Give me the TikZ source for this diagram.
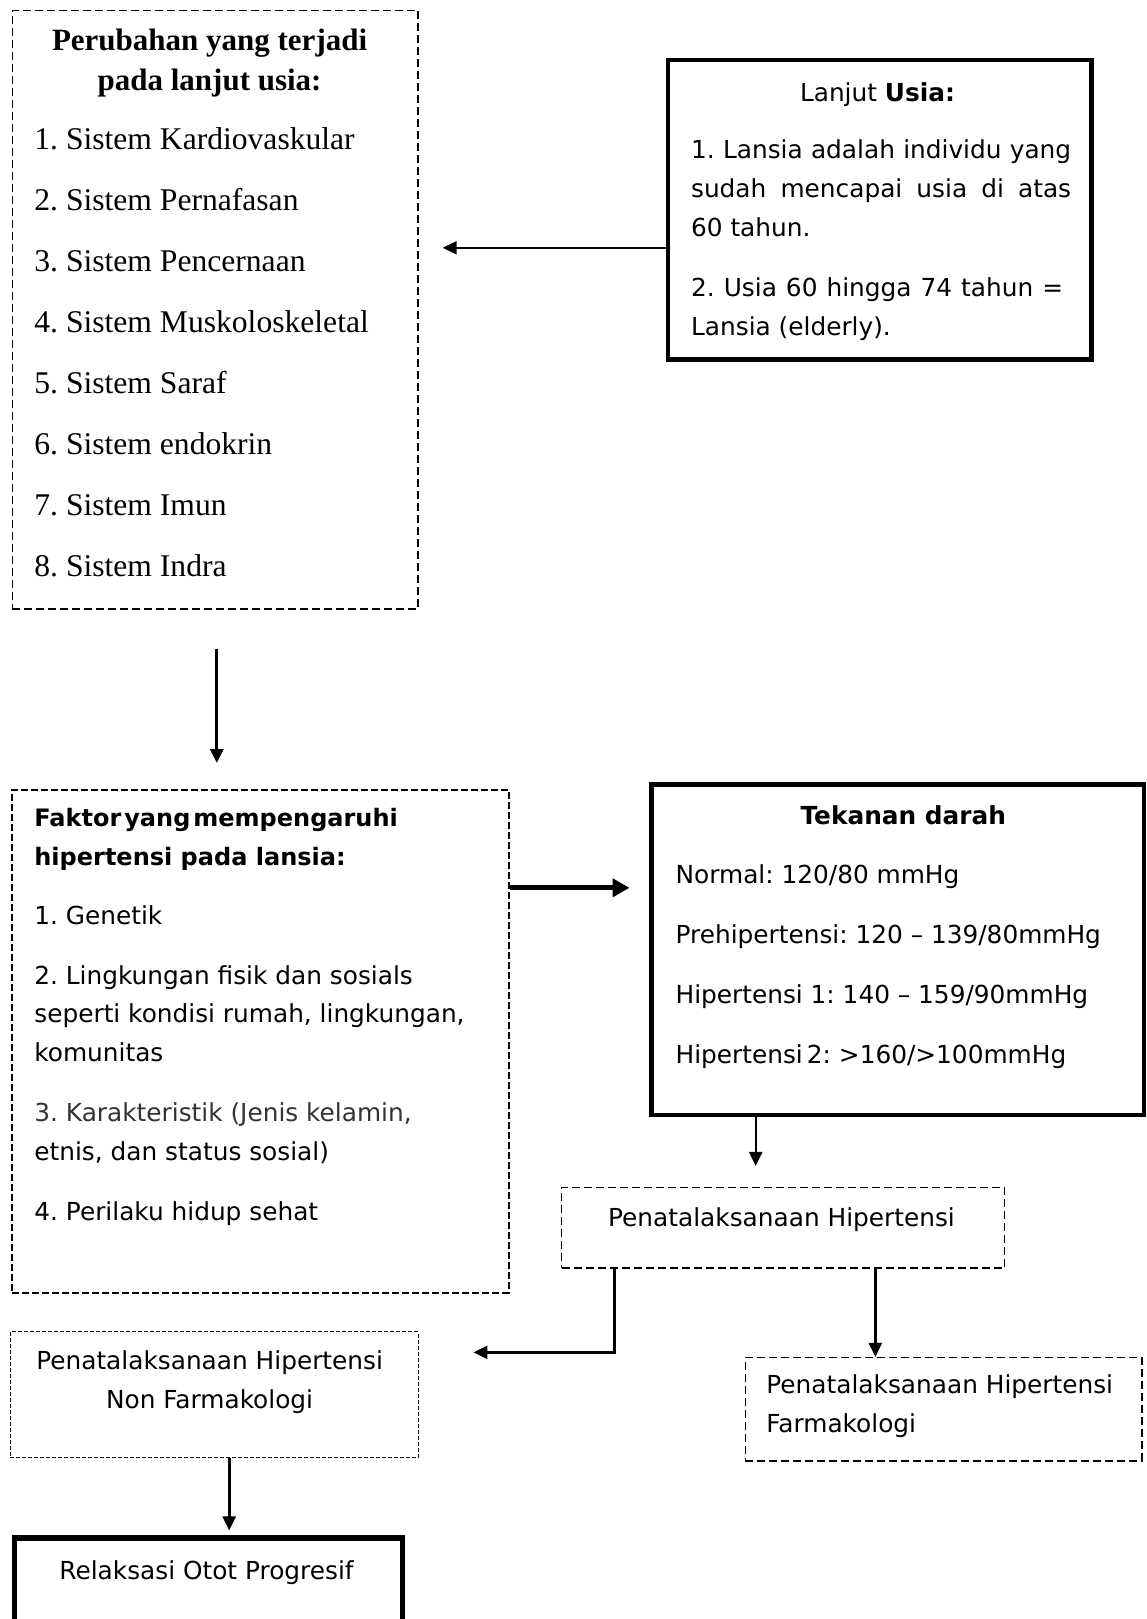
\documentclass[tikz,border=0pt]{standalone}
\usepackage{fontspec}
\setmainfont{Liberation Serif}
\setsansfont{DejaVu Sans}
\usetikzlibrary{arrows.meta}
\frenchspacing

\begin{document}
\begin{tikzpicture}[x=0.5pt,y=-0.5pt,
  dashbox/.style={draw=black,line width=0.75pt,dash pattern=on 4pt off 2pt,inner sep=0pt},
  finebox/.style={draw=black,line width=0.55pt,dash pattern=on 2pt off 1pt,inner sep=0pt},
  boldbox/.style={draw=black,line width=2.3pt,inner sep=0pt},
  txt/.style={inner sep=0pt,font=\sffamily\fontsize{12.4}{19.4}\selectfont},
  arr/.style={-{Triangle[length=7pt,width=6.5pt]},line width=1.1pt}]
  \useasboundingbox (0,0) rectangle (1147,1619);

  % boxes
  \node[dashbox,minimum width=202.9pt,minimum height=299.4pt] (perubahan) at (215.2,309.7) {};
  \node[boldbox,minimum width=211.6pt,minimum height=149.7pt] (lansia) at (879.6,209.6) {};
  \node[dashbox,line width=1pt,dash pattern=on 3.5pt off 1.5pt,minimum width=248.3pt,minimum height=251.4pt] (faktor) at (260.7,1041.2) {};
  \node[boldbox,minimum width=246.3pt,minimum height=165.2pt] (tekanan) at (897.7,949.8) {};
  \node[dashbox,minimum width=221.5pt,minimum height=40.3pt] (penatalaksanaan) at (783,1227.6) {};
  \node[dashbox,minimum width=198.2pt,minimum height=51.6pt] (farmako) at (943.6,1409.2) {};
  \node[finebox,minimum width=203.9pt,minimum height=63pt] (nonfarmako) at (214.2,1394.8) {};
  \node[boldbox,line width=2.6pt,minimum width=194pt,minimum height=61pt] (relaksasi) at (208.5,1599) {};

  % texts (base = last line)
  \node[inner sep=0pt,anchor=base,align=center,font=\bfseries\fontsize{15.5}{19.6}\selectfont] (perubahan-judul) at (209.6,90)
    {Perubahan yang terjadi\\pada lanjut usia:};
  \node[inner sep=0pt,anchor=base west,align=left,font=\fontsize{15.8}{30.5}\selectfont] (perubahan-isi) at (34,576)
    {1. Sistem Kardiovaskular\\2. Sistem Pernafasan\\3. Sistem Pencernaan\\4. Sistem Muskoloskeletal\\
     5. Sistem Saraf\\6. Sistem endokrin\\7. Sistem Imun\\8. Sistem Indra};
  \node[txt,anchor=base] (lansia-judul) at (877.5,101) {Lanjut \textbf{Usia:}};
  \node[txt,anchor=base west,align=left] (lansia-isi) at (690.7,335)
    {\makebox[190pt][s]{1. Lansia adalah individu yang}\\
     \makebox[190pt][s]{sudah mencapai usia di atas}\\
     60 tahun.\\[10.5pt]
     \makebox[186pt][s]{2. Usia 60 hingga 74 tahun =}\\
     Lansia (elderly).};
  \node[txt,anchor=base west,align=left] (faktor-isi) at (34,1220)
    {{\bfseries\fontsize{12}{19.4}\selectfont Faktor\hspace{1.5pt}yang\hspace{1.5pt}mempengaruhi}\\
     {\bfseries\fontsize{12}{19.4}\selectfont hipertensi pada lansia:}\\[10pt]
     1. Genetik\\[10.5pt]
     2. Lingkungan fisik dan sosials\\
     seperti kondisi rumah, lingkungan,\\
     komunitas\\[10.5pt]
     {\color{black!80}3. Karakteristik (Jenis kelamin,}\\
     etnis, dan status sosial)\\[10.5pt]
     4. Perilaku hidup sehat};
  \node[txt,anchor=base,font=\sffamily\bfseries\fontsize{12.4}{19.4}\selectfont] (tekanan-judul) at (903.3,824) {Tekanan darah};
  \node[txt,anchor=base west,align=left,font=\sffamily\fontsize{12.4}{29.9}\selectfont] (tekanan-isi) at (675.2,1063)
    {Normal: 120/80 mmHg\\
     Prehipertensi: 120 – 139/80mmHg\\
     Hipertensi 1: 140 – 159/90mmHg\\
     Hipertensi\,2: >160/>100mmHg};
  \node[txt,anchor=base] (penatalaksanaan-isi) at (781.5,1226) {Penatalaksanaan Hipertensi};
  \node[txt,anchor=base west,align=left] (farmako-isi) at (766,1432) {Penatalaksanaan Hipertensi\\Farmakologi};
  \node[txt,anchor=base,align=center] (nonfarmako-isi) at (209.6,1408) {Penatalaksanaan Hipertensi\\Non Farmakologi};
  \node[txt,anchor=base] (relaksasi-isi) at (206.5,1579) {Relaksasi Otot Progresif};

  % connectors
  \draw[arr,shorten >=11.9pt] ([yshift=-19.1pt]lansia.west) -- ([yshift=-19.1pt]lansia.west -| perubahan.east);
  \draw[arr,line width=1.6pt,shorten <=19.6pt,shorten >=12.9pt] ([xshift=0.8pt]perubahan.south) -- ([xshift=0.8pt]perubahan.south |- faktor.north);
  \draw[arr,line width=2.5pt,-{Triangle[length=8.5pt,width=9pt]},shorten >=9.8pt] ([yshift=76.7pt]faktor.east) -- ([yshift=76.7pt]faktor.east -| tekanan.west);
  \draw[arr,shorten >=10.3pt] ([xshift=-71pt]tekanan.south) -- ([xshift=-71pt]tekanan.south |- penatalaksanaan.north);
  \draw[arr,line width=1.3pt,shorten >=27.4pt] ([xshift=-84.4pt]penatalaksanaan.south) |- ([yshift=21.2pt]nonfarmako.east);
  \draw[arr,line width=1.3pt] ([xshift=46.2pt]penatalaksanaan.south) -- ([xshift=46.2pt]penatalaksanaan.south |- farmako.north);
  \draw[arr,line width=1.3pt,shorten >=2.5pt] ([xshift=7.5pt]nonfarmako.south) -- ([xshift=7.5pt]nonfarmako.south |- relaksasi.north);
\end{tikzpicture}
\end{document}
